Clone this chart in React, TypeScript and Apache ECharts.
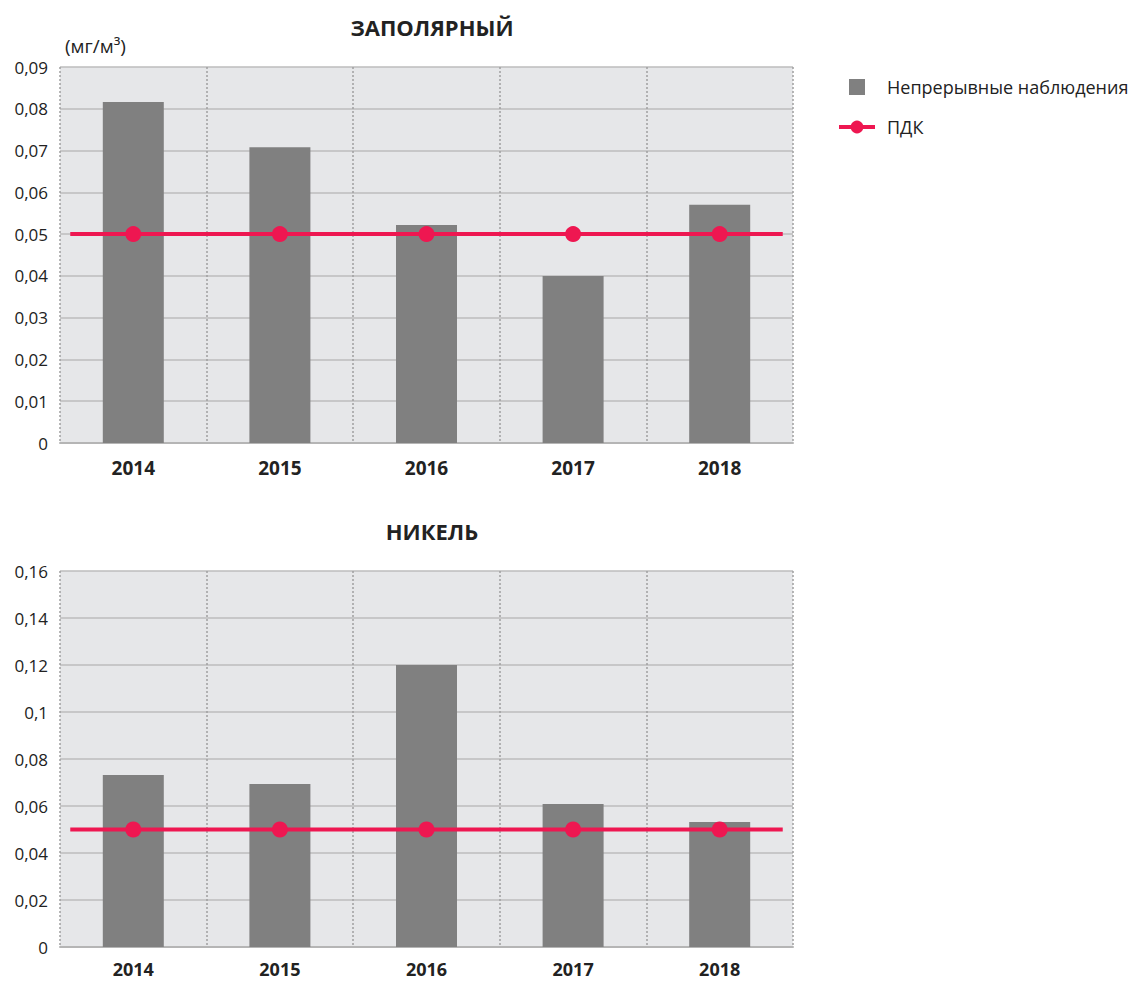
import React, { useEffect, useRef } from "react";
import * as echarts from "echarts";

const years = ["2014", "2015", "2016", "2017", "2018"];
const zapolyarnyValues = [0.0816, 0.0708, 0.0522, 0.04, 0.057];
const nikelValues = [0.0732, 0.0694, 0.12, 0.0609, 0.0532];
const pdkValues = [0.05, 0.05, 0.05, 0.05, 0.05];
const titles = ["ЗАПОЛЯРНЫЙ", "НИКЕЛЬ"];
const yMax = [0.09, 0.16];
const yInterval = [0.01, 0.02];
const barName = "Непрерывные наблюдения";
const lineName = "ПДК";

const BAR = "#808080";
const RED = "#ee1751";
const FONT = "'Open Sans', 'Noto Sans', sans-serif";

function pdkPoints(vals: number[]) {
  const pts: any[] = [];
  pts.push({ value: [0.07, vals[0]], symbol: "none" });
  vals.forEach((v, i) => pts.push({ value: [i + 0.5, v] }));
  pts.push({ value: [vals.length - 0.07, vals[vals.length - 1]], symbol: "none" });
  return pts;
}

export default function App() {
  const ref = useRef<HTMLDivElement>(null);
  useEffect(() => {
    const chart = echarts.init(ref.current!, null, { renderer: "svg" });
    const grids = [
      { left: 60, top: 67, width: 733, height: 376 },
      { left: 60, top: 571, width: 733, height: 376 },
    ];
    const xAxis: any[] = [];
    const yAxis: any[] = [];
    const series: any[] = [];
    [0, 1].forEach((g) => {
      xAxis.push({
        type: "category",
        gridIndex: g,
        data: years,
        axisTick: { show: false },
        axisLine: { lineStyle: { color: "#b5b5b5", width: 2 } },
        axisLabel: { fontFamily: FONT, fontSize: g === 0 ? 19 : 18, fontWeight: "bold", color: "#222", margin: g === 0 ? 15 : 13 },
        splitLine: { show: true, lineStyle: { color: "#a0a0a0", type: [2, 2], width: 1.5 } },
      });
      xAxis.push({
        type: "value",
        gridIndex: g,
        min: 0,
        max: 5,
        show: false,
      });
      yAxis.push({
        type: "value",
        gridIndex: g,
        min: 0,
        max: yMax[g],
        interval: yInterval[g],
        axisLine: { show: false },
        axisTick: { show: false },
        axisLabel: {
          fontFamily: FONT,
          fontSize: 17,
          color: "#222",
          margin: 12,
          formatter: (v: number) => (v === 0 ? "0" : String(parseFloat(v.toFixed(4))).replace(".", ",")),
        },
        splitLine: { show: true, lineStyle: { color: "#bcbcbc", width: 1.5 } },
      });
      series.push({
        name: barName,
        type: "bar",
        xAxisIndex: g * 2,
        yAxisIndex: g,
        data: g === 0 ? zapolyarnyValues : nikelValues,
        barWidth: 61,
        itemStyle: { color: BAR },
        z: 2,
      });
      series.push({
        name: lineName,
        type: "line",
        xAxisIndex: g * 2 + 1,
        yAxisIndex: g,
        data: pdkPoints(pdkValues),
        symbol: "circle",
        symbolSize: 16,
        lineStyle: { color: RED, width: 4 },
        itemStyle: { color: RED },
        z: 3,
      });
    });

    chart.setOption({
      animation: false,
      backgroundColor: "#ffffff",
      grid: grids.map((gr) => ({ ...gr, show: true, backgroundColor: "#e6e7e9", borderWidth: 0 })),
      title: [
        { text: titles[0], left: 427, top: 11, textAlign: "center", textStyle: { fontFamily: FONT, fontSize: 22, fontWeight: "bold", color: "#222" } },
        { text: titles[1], left: 427, top: 515, textAlign: "center", textStyle: { fontFamily: FONT, fontSize: 22, fontWeight: "bold", color: "#222" } },
        { text: "(мг/м³)", left: 60, top: 31, textStyle: { fontFamily: FONT, fontSize: 19, fontWeight: "normal", color: "#222" } },
      ],
      legend: {
        orient: "vertical",
        left: 832,
        top: 73,
        itemWidth: 36,
        itemHeight: 16,
        itemGap: 22,
        textStyle: { fontFamily: FONT, fontSize: 18, color: "#222", padding: [0, 0, 0, 7] },
        data: [
          { name: barName, icon: "path://M0,0H10V10H0Z", itemStyle: { color: BAR } },
          { name: lineName, lineStyle: { width: 4 } },
        ],
      },
      xAxis,
      yAxis,
      series,
    });
    return () => chart.dispose();
  }, []);
  return <div ref={ref} style={{ position: "fixed", left: 0, top: 0, width: 1135, height: 981 }} />;
}
